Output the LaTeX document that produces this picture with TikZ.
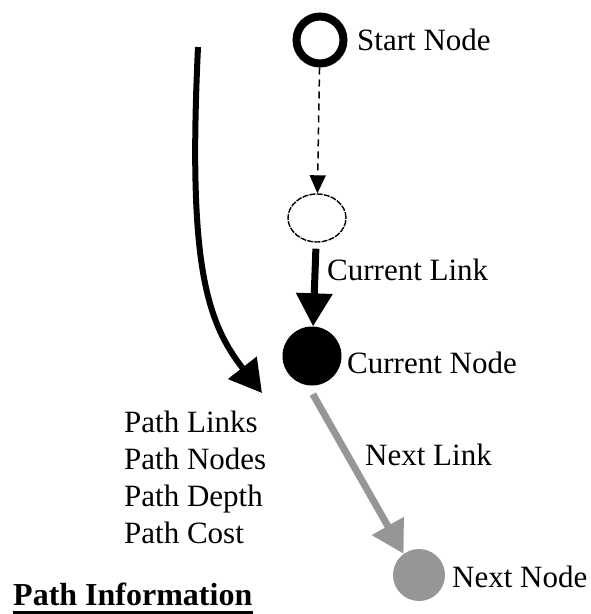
\documentclass[tikz,border=0pt]{standalone}
\usepackage{fontspec}
\setmainfont{Liberation Serif}
\usetikzlibrary{shapes.geometric,arrows.meta}
\definecolor{nextgray}{RGB}{150,150,150}

\begin{document}
\begin{tikzpicture}[x=1pt, y=-1pt, font=\fontsize{31}{37}\selectfont]
    \tikzstyle{ring}=[draw, circle, line width=8pt, minimum size=47pt, inner sep=0pt]
    \tikzstyle{openpt}=[draw, ellipse, line width=1.4pt, dash pattern=on 6pt off 1.2pt, minimum width=58pt, minimum height=48pt, inner sep=0pt]
    \tikzstyle{fullpt}=[circle, fill=black, minimum size=59pt, inner sep=0pt]
    \tikzstyle{greypt}=[circle, fill=nextgray, minimum size=52pt, inner sep=0pt]
    \tikzstyle{lbl}=[anchor=west, inner sep=0pt]
    \useasboundingbox (0,0) rectangle (590,614);
    % nodes along the search path
    \node[ring] (start) at (320,40) {};
    \node[openpt] (prev) at (317,218) {};
    \node[fullpt] (current) at (312,356) {};
    \node[greypt] (next) at (419,575) {};
    \node[lbl] (startlbl) at (357,40) {Start Node};
    \node[lbl] (curlinklbl) at (327,270) {Current Link};
    \node[lbl] (curnodelbl) at (347,363) {Current Node};
    \node[lbl] (nextlinklbl) at (365,455) {Next Link};
    \node[lbl] (nextnodelbl) at (452,577) {Next Node};
    % links
    \draw[line width=1.5pt, dash pattern=on 7pt off 5pt, -{Triangle[length=18pt,width=16pt]}] (start) -- (prev);
    \draw[line width=7pt, shorten <=6pt, -{Triangle[length=33pt,width=35pt]}] (prev) -- (current);
    \draw[nextgray, line width=7pt, shorten <=10pt, -{Triangle[length=32pt,width=35pt]}] (current.-98) -- (next.126);
    % path information
    \coordinate (pathtop) at (198,47);
    \coordinate (pathend) at (262,393);
    \draw[line width=6pt, -{Triangle[length=32pt,width=35pt]}] (pathtop) .. controls (188,260) and (205,320) .. (pathend);
    \node[lbl, align=left] (pathlist) at (124,477) {Path Links\\Path Nodes\\Path Depth\\Path Cost};
    \node[anchor=base west, inner sep=0pt, font=\fontsize{32}{38}\selectfont\bfseries] (title) at (13,605) {Path Information};
    \draw[line width=3pt] ([yshift=-7.5pt]title.base west) -- ([yshift=-7.5pt]title.base east);
\end{tikzpicture}
\end{document}
